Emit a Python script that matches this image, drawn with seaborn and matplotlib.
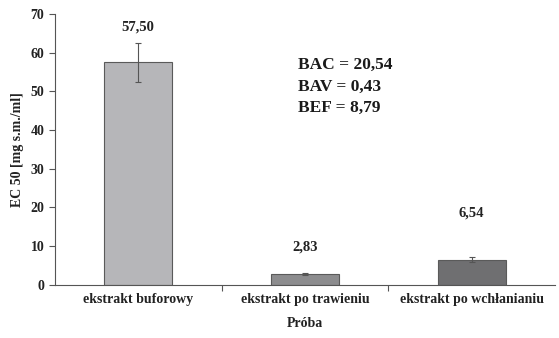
import pandas as pd
import numpy as np
from matplotlib import pyplot as plt
import seaborn as sns

# data
samples = ['ekstrakt buforowy', 'ekstrakt po trawieniu', 'ekstrakt po wchłanianiu']
ec50 = [57.50, 2.83, 6.54]
ec50_sd = [5.1, 0.25, 0.7]
value_labels = ['57,50', '2,83', '6,54']
factors = ['BAC = 20,54', 'BAV = 0,43', 'BEF = 8,79']

df = pd.DataFrame({'Próba': samples, 'EC50': ec50})

sns.set_style('white')
plt.rcParams['font.family'] = ['Liberation Serif', 'DejaVu Serif']
plt.rcParams['font.weight'] = 'bold'

fig = plt.figure(figsize=(5.59, 3.38), dpi=100)
ax = fig.add_axes([0.098, 0.157, 0.895, 0.802])

sns.barplot(data=df, x='Próba', y='EC50', hue='Próba', legend=False,
            palette=['#b5b5b9', '#8c8c8e', '#6f6f71'], width=0.41,
            edgecolor='#5a5a5a', linewidth=0.8, errorbar=None, ax=ax)
ax.errorbar(range(len(samples)), ec50, yerr=ec50_sd, fmt='none',
            ecolor='#555555', elinewidth=0.8, capsize=2.5, capthick=0.8)

# value labels (offsets placed by eye)
offsets = [9.0, 7.0, 12.0]
for i, (v, lab) in enumerate(zip(ec50, value_labels)):
    ax.text(i, v + offsets[i], lab, ha='center', va='center',
            fontsize=10.5, fontweight='bold', color='#222222')

for k, t in enumerate(factors):
    ax.text(0.96, 56.8 - k * 5.6, t, ha='left', va='center',
            fontsize=12.5, fontweight='bold', color='#1a1a1a')

ax.set_ylim(0, 70)
ax.set_xlim(-0.5, 2.5)
ax.set_yticks(range(0, 71, 10))
ax.set_xticks([0, 1, 2])
ax.set_xticklabels(samples, fontsize=10, fontweight='bold', color='#222222')
ax.set_xticks([0.5, 1.5], minor=True)
ax.tick_params(axis='x', which='major', length=0, pad=6)
ax.tick_params(axis='x', which='minor', length=4, width=0.8, color='#555555', direction='out', bottom=True)
ax.tick_params(axis='y', length=4, width=0.8, color='#555555', direction='out', left=True,
               labelsize=10, labelcolor='#222222')
for lab in ax.get_yticklabels():
    lab.set_fontweight('bold')

ax.set_xlabel('Próba', fontsize=10, fontweight='bold', color='#222222', labelpad=8)
ax.set_ylabel('EC 50 [mg s.m./ml]', fontsize=10, fontweight='bold', color='#222222', labelpad=5)

sns.despine(ax=ax)
for s in ['left', 'bottom']:
    ax.spines[s].set_color('#555555')
    ax.spines[s].set_linewidth(0.8)

fig.savefig('out.png', dpi=100)
